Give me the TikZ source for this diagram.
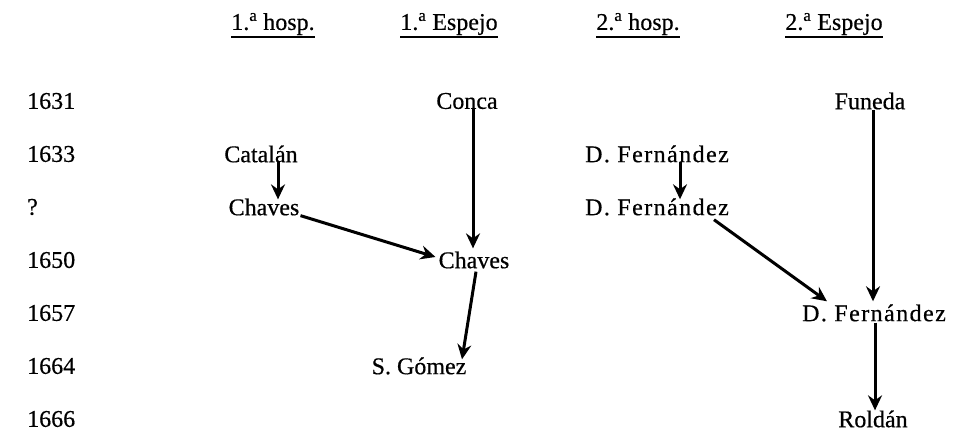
\documentclass[tikz,border=0pt]{standalone}
\usepackage{fontspec}
\setmainfont{Liberation Serif}
\newfontfamily\heavy[FakeBold=0.5]{Liberation Serif}
\usetikzlibrary{arrows.meta,calc}
\begin{document}
\begin{tikzpicture}[x=1pt,y=-1pt,
  lbl/.style={font=\heavy\fontsize{24}{27}\selectfont, inner sep=1pt},
  wide/.style={lbl, font=\heavy\fontsize{24}{27}\selectfont\addfontfeature{LetterSpace=6}},
  yr/.style={lbl, anchor=west},
  hdr/.style={font=\heavy\fontsize{24}{27}\selectfont, inner sep=0pt},
  uline/.style={line width=1.8pt},
  arr/.style={line width=3pt, -{Stealth[length=15pt,width=14pt,inset=5pt]}}]
\useasboundingbox (0,0) rectangle (958,431);
% headers
\node[hdr] (h1) at (273,24) {1.\textsuperscript{a} hosp.};
\node[hdr] (h2) at (449,24) {1.\textsuperscript{a} Espejo};
\node[hdr] (h3) at (638,24) {2.\textsuperscript{a} hosp.};
\node[hdr] (h4) at (834,24) {2.\textsuperscript{a} Espejo};
\foreach \h in {h1,h2,h3,h4}
  \draw[uline] ($(\h.south west)+(0,2)$) -- ($(\h.south east)+(0,2)$);
% years
\node[yr] (y1) at (26,101) {1631};
\node[yr] (y2) at (26,154) {1633};
\node[yr] (y3) at (26,207) {?};
\node[yr] (y4) at (26,260) {1650};
\node[yr] (y5) at (26,313) {1657};
\node[yr] (y6) at (26,366) {1664};
\node[yr] (y7) at (26,419) {1666};
% names
\node[lbl] (cat) at (261,154) {Catalán};
\node[lbl] (ch1) at (264,207) {Chaves};
\node[lbl] (con) at (467,101) {Conca};
\node[lbl] (ch2) at (474,260) {Chaves};
\node[lbl] (sgo) at (419,366) {S. Gómez};
\node[wide] (df1) at (657,154) {D. Fernández};
\node[wide] (df2) at (657,207) {D. Fernández};
\node[lbl] (fun) at (870,101) {Funeda};
\node[wide] (df3) at (874,313) {D. Fernández};
\node[lbl] (rol) at (873,419) {Roldán};
% arrows
\draw[arr] ($(cat.south)+(17,-2)$) -- ($(ch1.north)+(14,2)$);
\draw[arr] ($(ch1.south east)+(0,-1)$) -- ($(ch2.west)+(-2,-3)$);
\draw[arr] ($(con.south)+(6,-1)$) -- ($(ch2.north)+(-1,-2)$);
\draw[arr] ($(ch2.south)+(2,2)$) -- ($(sgo.north)+(43,3)$);
\draw[arr] ($(df1.south)+(23,-2)$) -- ($(df2.north)+(23,2)$);
\draw[arr] ($(df2.south)+(57,3)$) -- ($(df3.north west)+(26,-2)$);
\draw[arr] ($(fun.south)+(3,-1)$) -- ($(df3.north)+(-1,-2)$);
\draw[arr] ($(df3.south)+(1,0)$) -- ($(rol.north)+(2,1)$);
\end{tikzpicture}
\end{document}
